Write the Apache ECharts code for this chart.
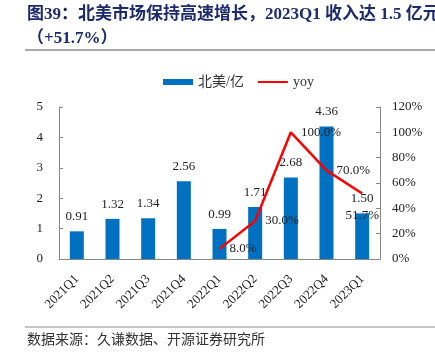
<!DOCTYPE html>
<html><head><meta charset="utf-8">
<script src="https://cdn.jsdelivr.net/npm/echarts@6/dist/echarts.min.js"></script>
<style>html,body{margin:0;padding:0;background:#fff}#c{width:435px;height:357px}</style>
</head><body><div id="c"></div>
<script>
const categories = ['2021Q1','2021Q2','2021Q3','2021Q4','2022Q1','2022Q2','2022Q3','2022Q4','2023Q1'];
const revenue = [0.91,1.32,1.34,2.56,0.99,1.71,2.68,4.36,1.50];
const yoy = [null,null,null,null,8.0,30.0,100.0,70.0,51.7];
const yoyLabelPos = [null,null,null,null,'right','right','right','right','bottom'];
const leftTicks = {min:0,max:5,interval:1};
const rightTicks = {min:0,max:120,interval:20};

const serif = '"Liberation Serif","Noto Sans CJK SC",serif';
const chart = echarts.init(document.getElementById('c'));
chart.setOption({
  animation:false,
  graphic:[
    {type:'text',left:27,top:6,style:{text:'图39：北美市场保持高速增长，2023Q1 收入达 1.5 亿元',font:'bold 17px '+serif,fill:'#1c2a6e'}},
    {type:'text',left:27,top:30,style:{text:'（+51.7%）',font:'bold 17px '+serif,fill:'#1c2a6e'}},
    {type:'line',shape:{x1:25,y1:50,x2:435,y2:50},style:{stroke:'#8c8c8c',lineWidth:1.5}},
    {type:'line',shape:{x1:25,y1:327,x2:435,y2:327},style:{stroke:'#8c8c8c',lineWidth:1}},
    {type:'text',left:27,top:333,style:{text:'数据来源：久谦数据、开源证券研究所',font:'14px '+serif,fill:'#333'}}
  ],
  legend:{
    top:70,left:158,itemGap:14,itemWidth:30,itemHeight:6,
    textStyle:{fontFamily:serif,fontSize:14,color:'#333'},
    data:[{name:'北美/亿',icon:'rect'},{name:'yoy',icon:'path://M0,0H30V2H0Z'}]
  },
  grid:{left:59,right:55,top:107,bottom:98},
  xAxis:{
    type:'category',data:categories,
    axisLine:{lineStyle:{color:'#888'}},
    axisTick:{inside:true,length:4,lineStyle:{color:'#888'}},
    axisLabel:{rotate:45,margin:18,fontFamily:serif,fontSize:13,color:'#222'}
  },
  yAxis:[
    {type:'value',min:leftTicks.min,max:leftTicks.max,interval:leftTicks.interval,
     axisLine:{show:true,lineStyle:{color:'#888'}},
     axisTick:{show:true,inside:true,length:4,lineStyle:{color:'#888'}},
     splitLine:{show:false},
     axisLabel:{margin:16,fontFamily:serif,fontSize:13,color:'#222'}},
    {type:'value',min:rightTicks.min,max:rightTicks.max,interval:rightTicks.interval,position:'right',
     axisLine:{show:true,lineStyle:{color:'#888'}},
     axisTick:{show:true,inside:true,length:4,lineStyle:{color:'#888'}},
     splitLine:{show:false},
     axisLabel:{margin:12,formatter:'{value}%',fontFamily:serif,fontSize:13,color:'#222'}}
  ],
  series:[
    {name:'北美/亿',type:'bar',data:revenue,barWidth:14,itemStyle:{color:'#0070c0'},
     label:{show:true,position:'top',distance:8,formatter:p=>p.value.toFixed(2),fontFamily:serif,fontSize:13,color:'#222'}},
    {name:'yoy',type:'line',yAxisIndex:1,data:yoy.map((v,i)=>v==null?null:{value:v,label:{position:yoyLabelPos[i],distance:yoyLabelPos[i]==='bottom'?16:10}}),
     symbol:'circle',symbolSize:0.1,showSymbol:true,lineStyle:{color:'#ff0000',width:2.5},itemStyle:{color:'#ff0000'},
     label:{show:true,formatter:p=>p.value.toFixed(1)+'%',fontFamily:serif,fontSize:13,color:'#222',distance:10}}
  ]
});
</script></body></html>
